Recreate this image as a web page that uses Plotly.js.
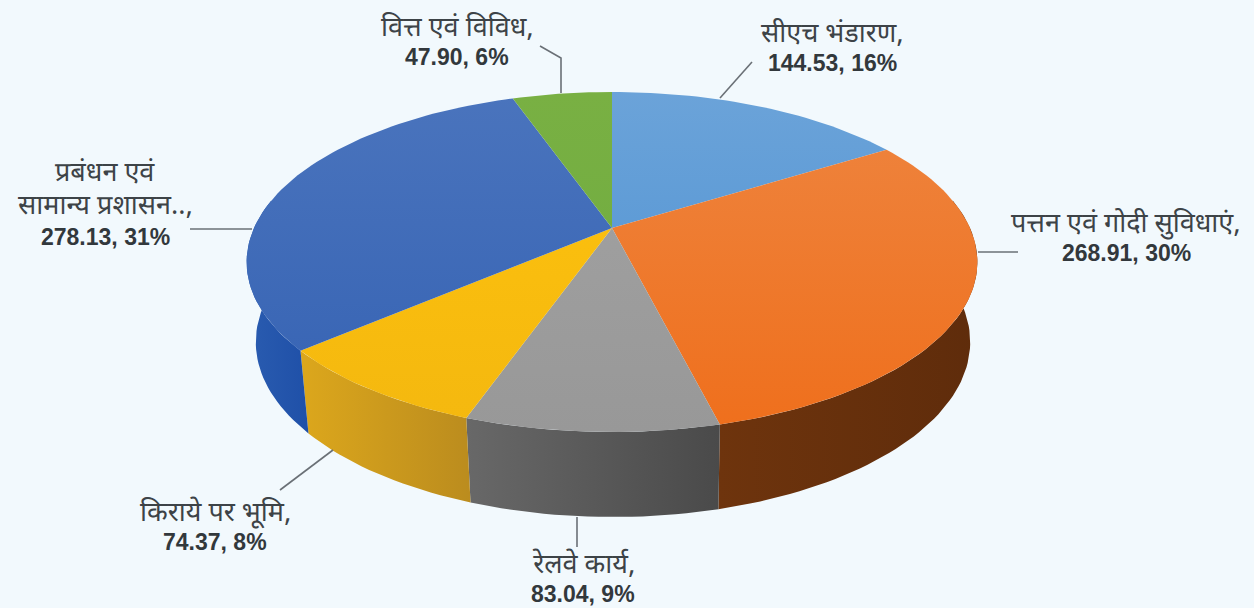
<!DOCTYPE html>
<html><head><meta charset="utf-8">
<script src="https://cdn.plot.ly/plotly-3.0.1.min.js"></script>
<style>html,body{margin:0;padding:0;background:#f2f9fd}#c{width:1254px;height:608px}</style>
</head><body><div id="c"></div>
<script>
// ---- data ----
const categories = ['CH storage','Port','Railway','Land','Management','Finance'];
const values = [144.53, 268.91, 83.04, 74.37, 278.13, 47.90];
const labelText = [
  ['सीएच भंडारण,'],
  ['पत्तन एवं गोदी सुविधाएं,'],
  ['रेलवे कार्य,'],
  ['किराये पर भूमि,'],
  ['प्रबंधन एवं','सामान्य प्रशासन..,'],
  ['वित्त एवं विविध,']
];
const valueText = ['144.53, 16%','268.91, 30%','83.04, 9%','74.37, 8%','278.13, 31%','47.90, 6%'];
// ---- styles ----
const topColors = [['#6ba3d9','#4b90d2'],['#ee8540','#ef6f1c'],['#a3a3a3','#989898'],['#ffc30d','#f4b80f'],['#4a74bd','#3562b3'],['#79b043','#6cab3f']];
const wallColors = [['#2a5db0','#2a5db0'],['#5f2c0b','#6e340d'],['#4a4a4a','#686868'],['#bb8c1e','#dca71c'],['#1f50a8','#2a5cb0'],['#6cab3f','#6cab3f']];
const labelCentre = [[832,33],[1126,223],[583,564],[215,512],[105,172],[457,27]];
const leaders = [[[720,752],[98,62]],[[978,1018],[252,252]],[[577,577],[517,547]],[[333,280],[450,490]],[[252,190],[229,229]],[[561,561,540],[93,58,46]]];
// ---- perspective disc geometry ----
const K = 0.2;
const TOP = {cx:612, cy:228, R:358, H:163.2};
const BASE = {cx:613, cy:307, R:350, H:168};
function rim(d, deg){
  const a = deg*Math.PI/180, u = Math.sin(a), v = Math.cos(a), w = 1 + K*v;
  return [d.cx + d.R*u/w, d.cy - d.H*v/w];
}
const total = values.reduce((a,b)=>a+b,0);
let acc = 0;
const spans = values.map(v=>{const s=acc/total*360; acc+=v; return [s, acc/total*360];});
function sweep(a,b){const n=Math.max(2,Math.ceil((b-a)/1.5)),o=[];for(let i=0;i<=n;i++)o.push(a+(b-a)*i/n);return o;}

const traces = [];
const yTop = TOP.cy - TOP.H/(1+K), yBot = TOP.cy + TOP.H/(1-K);
// side walls first
spans.forEach((sp,i)=>{
  const a = Math.max(sp[0],80), b = Math.min(sp[1],280);
  if(b<=a) return;
  const t = sweep(a,b).map(d=>rim(TOP,d)), l = sweep(a,b).map(d=>rim(BASE,d)).reverse();
  const pts = t.concat(l).concat([t[0]]);
  const xs = pts.map(p=>p[0]);
  traces.push({type:'scatter',mode:'lines',x:xs,y:pts.map(p=>p[1]),fill:'toself',
    line:{width:0,color:wallColors[i][0]},hoverinfo:'skip',name:categories[i]+' wall',
    fillgradient:{type:'horizontal',colorscale:[[0,wallColors[i][1]],[1,wallColors[i][0]]],start:Math.min(...xs),stop:Math.max(...xs)}});
});
// top face
spans.forEach((sp,i)=>{
  const pts = [[TOP.cx,TOP.cy]].concat(sweep(sp[0],sp[1]).map(d=>rim(TOP,d))).concat([[TOP.cx,TOP.cy]]);
  const ys = pts.map(p=>p[1]);
  traces.push({type:'scatter',mode:'lines',x:pts.map(p=>p[0]),y:ys,fill:'toself',
    line:{width:0,color:topColors[i][0]},hoverinfo:'skip',name:categories[i],
    fillgradient:{type:'vertical',colorscale:[[0,topColors[i][0]],[1,topColors[i][1]]],start:yTop,stop:yBot}});
});
// leader lines
leaders.forEach(l=>traces.push({type:'scatter',mode:'lines',x:l[0],y:l[1],line:{width:1.6,color:'#6a7076'},hoverinfo:'skip'}));
// labels
const annotations = [];
labelText.forEach((lines,i)=>{
  const [x,y0] = labelCentre[i];
  lines.forEach((s,j)=>annotations.push({x,y:y0+2+j*33,text:s,showarrow:false,xanchor:'center',yanchor:'middle',
    font:{family:'"Noto Sans Devanagari","Noto Sans","DejaVu Sans",sans-serif',size:27,color:'#3d4347'}}));
  annotations.push({x,y:y0+1+lines.length*(lines.length>1?32:29),text:'<b>'+valueText[i]+'</b>',showarrow:false,xanchor:'center',yanchor:'middle',
    font:{family:'"Liberation Sans",Arial,sans-serif',size:23,color:'#32383c'}});
});
Plotly.newPlot('c',traces,{
  width:1254,height:608,margin:{l:0,r:0,t:0,b:0},showlegend:false,
  paper_bgcolor:'#f2f9fd',plot_bgcolor:'#f2f9fd',
  xaxis:{range:[0,1254],visible:false,fixedrange:true},
  yaxis:{range:[608,0],visible:false,fixedrange:true},
  annotations
},{displayModeBar:false,staticPlot:true});
</script></body></html>
